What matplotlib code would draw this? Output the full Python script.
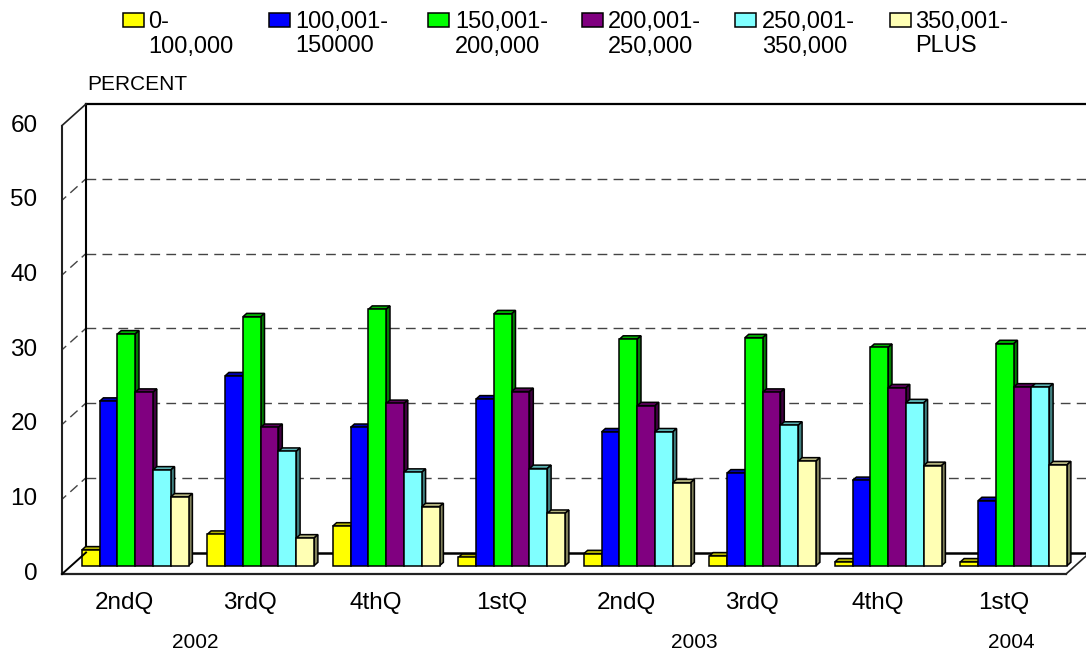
import matplotlib
matplotlib.use("Agg")
import matplotlib.pyplot as plt
from matplotlib.patches import Polygon, Rectangle
import numpy as np

# ---------------- data ----------------
categories = ["2ndQ", "3rdQ", "4thQ", "1stQ", "2ndQ", "3rdQ", "4thQ", "1stQ"]
years = ["2002", "2003", "2004"]
series_labels = ["0-\n100,000", "100,001-\n150000", "150,001-\n200,000",
                 "200,001-\n250,000", "250,001-\n350,000", "350,001-\nPLUS"]
s_0_100k = [2.1, 4.2, 5.3, 1.1, 1.6, 1.3, 0.5, 0.5]
s_100_150k = [22.0, 25.4, 18.5, 22.3, 17.9, 12.4, 11.4, 8.7]
s_150_200k = [31.0, 33.3, 34.3, 33.7, 30.3, 30.5, 29.2, 29.7]
s_200_250k = [23.2, 18.5, 21.7, 23.3, 21.4, 23.2, 23.8, 23.9]
s_250_350k = [12.8, 15.3, 12.5, 13.0, 17.9, 18.8, 21.8, 23.9]
s_350_plus = [9.2, 3.7, 7.9, 7.0, 11.1, 14.0, 13.4, 13.5]
y_ticks = [0, 10, 20, 30, 40, 50, 60]

series = [s_0_100k, s_100_150k, s_150_200k, s_200_250k, s_250_350k, s_350_plus]
colors = ["#FFFF00", "#0000FF", "#00FF00", "#800080", "#80FFFF", "#FFFFB4"]

# ---------------- layout ----------------
W, H = 1086, 656
plt.rcParams["font.family"] = ["Liberation Sans", "DejaVu Sans"]
plt.rcParams["lines.scale_dashes"] = False
fig = plt.figure(figsize=(W / 100, H / 100), dpi=100)
fig.patch.set_facecolor("white")

# axes = plane in which the bars stand
ax = fig.add_axes([72.45 / W, 90.3 / H, 1004 / W, 448.5 / H])
ax.set_xlim(-0.5, len(categories) - 0.5)
ax.set_ylim(0, 60)
ax.axis("off")

fig.canvas.draw()
p0 = ax.transData.transform((0, 0))
p1 = ax.transData.transform((1, 1))
pxx = p1[0] - p0[0]  # pixels per category
pxy = p1[1] - p0[1]  # pixels per percent

def ox(px):
    return px / pxx

def oy(px):
    return px / pxy

# offsets (in data units) of front plane and back wall relative to bar plane
fdx, fdy = ox(-10.4), oy(-8.3)
bdx, bdy = ox(13.55), oy(13.2)
ddx, ddy = ox(3.8), oy(3.4)  # bar depth

xl, xr = -0.5, len(categories) - 0.5
ytop = y_ticks[-1]
lk = dict(clip_on=False, solid_capstyle="projecting")
grid_c = "#444444"

# back wall
ax.plot([xl + bdx, xl + bdx], [bdy, ytop + bdy], color="black", lw=1.5, zorder=2, **lk)
ax.plot([xl + bdx, xr + bdx], [ytop + bdy, ytop + bdy], color="black", lw=1.6, zorder=2, **lk)
for v in y_ticks[1:-1]:
    ax.plot([xl + bdx, xr + bdx + 0.05], [v + bdy, v + bdy], color=grid_c, lw=1.0,
            linestyle=(0, (7.0, 4.5)), zorder=1, clip_on=False)
    # side wall grid
    ax.plot([xl + fdx, xl + bdx], [v + fdy, v + bdy], color=grid_c, lw=1.0,
            linestyle=(3.0, (7.0, 4.0)), zorder=1, clip_on=False)
# side wall outline
ax.plot([xl + fdx, xl + fdx], [fdy, ytop + fdy], color="#222222", lw=1.5, zorder=2, **lk)
ax.plot([xl + fdx, xl + bdx], [ytop + fdy, ytop + bdy], color="#222222", lw=1.2, zorder=2, **lk)
# floor
ax.plot([xl + bdx, xr + bdx], [bdy, bdy], color="black", lw=1.8, zorder=2, **lk)
ax.plot([xl + fdx, xr + fdx], [fdy, fdy], color="#222222", lw=1.6, zorder=30, **lk)
ax.plot([xl + fdx, xl + bdx], [fdy, bdy], color="black", lw=1.4, zorder=30, **lk)
ax.plot([xr + fdx, xr + bdx], [fdy, bdy], color="#222222", lw=1.2, zorder=30, **lk)

# bars
n = len(series)
bw = 0.1418
x = np.arange(len(categories))

def shade(c, f):
    r, g, b = matplotlib.colors.to_rgb(c)
    return (r * f, g * f, b * f)

for s, vals in enumerate(series):
    xs = x + (s - (n - 1) / 2) * bw
    ax.bar(xs, vals, width=bw, color=colors[s], edgecolor="black", linewidth=1.1,
           zorder=11 + 2 * s, clip_on=False)
    for xc, h in zip(xs, vals):
        x0, x1 = xc - bw / 2, xc + bw / 2
        top = Polygon([(x0, h), (x1, h), (x1 + ddx, h + ddy), (x0 + ddx, h + ddy)],
                      closed=True, facecolor=shade(colors[s], 0.7), edgecolor="black",
                      linewidth=1.1, zorder=10 + 2 * s, clip_on=False)
        side = Polygon([(x1, 0), (x1 + ddx, ddy), (x1 + ddx, h + ddy), (x1, h)],
                       closed=True, facecolor=shade(colors[s], 0.5), edgecolor="black",
                       linewidth=1.1, zorder=10 + 2 * s, clip_on=False)
        ax.add_patch(top)
        ax.add_patch(side)

# y tick labels (front plane)
for v in y_ticks:
    ax.text(xl + fdx - ox(24.5), v + fdy, str(v), ha="right", va="center",
            fontsize=17.5, color="black", clip_on=False)

# category labels
for i, c in enumerate(categories):
    ax.text(i + fdx, fdy - oy(29), c, ha="center", va="center", fontsize=17.5,
            color="black", clip_on=False)

# year labels
year_pos = [0.56, 4.54, 7.065]
for yv, xp in zip(years, year_pos):
    ax.text(xp + fdx, fdy - oy(68), yv, ha="center", va="center", fontsize=15,
            color="black", clip_on=False)

# axis title
fig.text(87 / W, 1 - 85 / H, "PERCENT", ha="left", va="center", fontsize=15)

# legend (manual)
box_x = [123, 269, 428, 581.7, 735, 890]
text_x = [148, 295, 455, 608, 761.7, 915]
for s in range(n):
    fig.patches.append(Rectangle((box_x[s] / W, 1 - 27 / H), 21 / W, 13.5 / H,
                                 transform=fig.transFigure, facecolor=colors[s],
                                 edgecolor="black", linewidth=1.1))
    l1, l2 = series_labels[s].split("\n")
    fig.text(text_x[s] / W, 1 - 28 / H, l1, ha="left", va="baseline", fontsize=17)
    fig.text(text_x[s] / W, 1 - 52.5 / H, l2, ha="left", va="baseline", fontsize=17)

fig.savefig("out.png", dpi=100, facecolor="white")
